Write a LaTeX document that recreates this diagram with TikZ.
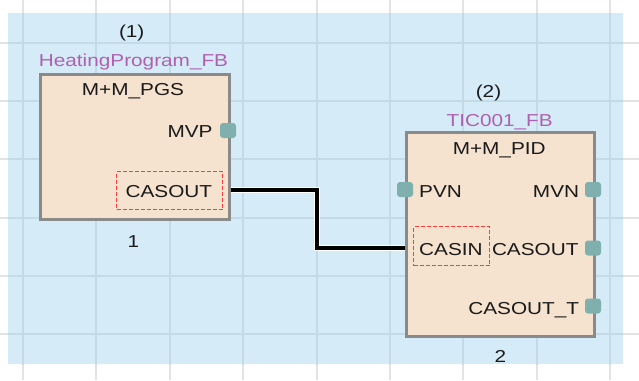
\documentclass[tikz,border=0pt]{standalone}
\usepackage{fontspec}
\setmainfont{Liberation Sans}[FakeStretch=1.2]
\usetikzlibrary{calc}
\definecolor{bgblue}{HTML}{D5EBF7}
\definecolor{gridout}{HTML}{E3E3E3}
\definecolor{gridin}{HTML}{C3DAE7}
\definecolor{blockfill}{HTML}{F5E2CF}
\definecolor{blockdraw}{HTML}{8A8A8A}
\definecolor{portfill}{HTML}{7FB0AE}
\definecolor{fbpurple}{HTML}{B060B0}
\definecolor{dashred}{HTML}{FF3B3B}
\definecolor{txt}{HTML}{1A1A1A}
\begin{document}
\begin{tikzpicture}[x=1pt,y=-1pt,
  font=\fontsize{17.3}{20}\selectfont,
  gridline/.style={line width=2pt},
  fbblock/.style={draw=blockdraw,fill=blockfill,line width=2.5pt,inner sep=0pt,anchor=north west},
  port/.style={fill=portfill,rounded corners=3pt,minimum width=16pt,minimum height=15pt,inner sep=0pt},
  lbl/.style={inner sep=0pt,text=txt},
  fbname/.style={inner sep=0pt,text=fbpurple},
  selbox/.style={draw=dashred,dash pattern=on 4pt off 2pt,line width=1.3pt,inner sep=0pt,anchor=north west},
  wirehalo/.style={white,line width=6pt},
  wire/.style={black,line width=4pt}]
\useasboundingbox (0,0) rectangle (639,380);
\fill[white] (0,0) rectangle (639,380);
\fill[bgblue] (8,13) rectangle (623,364);
% grid
\foreach \k in {0,...,8} \draw[gridline,gridout] (23+73.4*\k,0) -- (23+73.4*\k,380);
\foreach \k in {0,...,5} \draw[gridline,gridout] (0,43+58.2*\k) -- (639,43+58.2*\k);
\begin{scope}
  \clip (8,13) rectangle (623,364);
  \foreach \k in {0,...,8} \draw[gridline,gridin] (23+73.4*\k,0) -- (23+73.4*\k,380);
  \foreach \k in {0,...,5} \draw[gridline,gridin] (0,43+58.2*\k) -- (639,43+58.2*\k);
\end{scope}
% block 1
\node[fbblock,minimum width=189pt,minimum height=145pt] (b1) at (39,73) {};
\node[lbl,anchor=base] (n1) at (131.7,37) {(1)};
\node[fbname,anchor=base] (fb1) at (133.5,66) {HeatingProgram\_FB};
\node[lbl,anchor=base] (t1) at (133,95) {M+M\_PGS};
\node[lbl,anchor=base east] (mvp) at (212.7,137.5) {MVP};
\node[port] (pmvp) at (228,130.5) {};
\node[selbox,minimum width=106pt,minimum height=38pt] (s1) at (116,171) {};
\node[lbl,anchor=base east] (co1) at (212.3,197) {CASOUT};
\node[lbl,anchor=base] (i1) at (133.3,247) {1};
% block 2
\node[fbblock,minimum width=188pt,minimum height=204pt] (b2) at (405,131) {};
\node[lbl,anchor=base] (n2) at (488.5,97) {(2)};
\node[fbname,anchor=base] (fb2) at (499.7,126) {TIC001\_FB};
\node[lbl,anchor=base] (t2) at (499.2,154) {M+M\_PID};
\node[lbl,anchor=base west] (pvn) at (419,197) {PVN};
\node[port] (ppvn) at (405,189.5) {};
\node[lbl,anchor=base east] (mvn) at (579.3,197) {MVN};
\node[port] (pmvn) at (593,189.5) {};
\node[selbox,minimum width=76pt,minimum height=39pt] (s2) at (413,226) {};
\node[lbl,anchor=base west] (casin) at (419,255) {CASIN};
\node[lbl,anchor=base east] (co2) at (578.7,255) {CASOUT};
\node[port] (pco2) at (593,248) {};
\node[lbl,anchor=base east] (cot) at (579.3,314) {CASOUT\_T};
\node[port] (pcot) at (593,306) {};
\node[lbl,anchor=base] (i2n) at (500.5,362.5) {2};
% connector
\coordinate (o1) at (b1.east |- 0,189.5);
\coordinate (in2) at (b2.west |- 0,247.5);
\coordinate (bend) at (316.5,0);
\draw[wirehalo] (o1) -- (o1 -| bend) -- (bend |- in2) -- (in2);
\draw[wire] (o1) -- (o1 -| bend) -- (bend |- in2) -- (in2);
\end{tikzpicture}
\end{document}
